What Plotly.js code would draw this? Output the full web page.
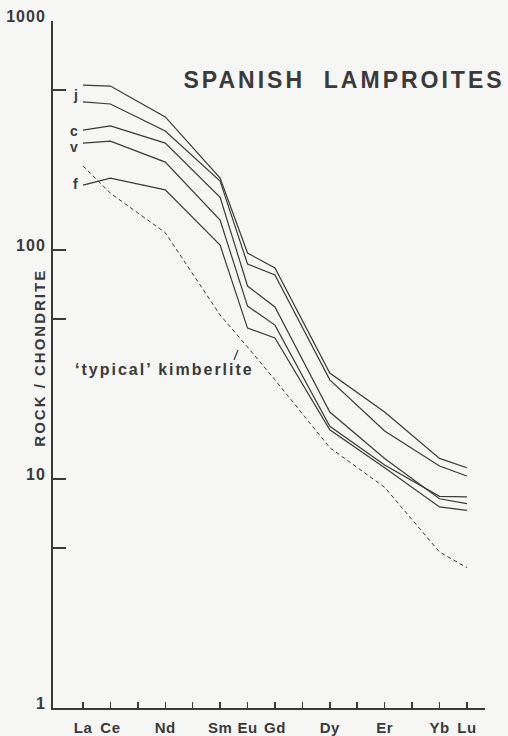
<!DOCTYPE html>
<html>
<head>
<meta charset="utf-8">
<script src="https://cdn.plot.ly/plotly-3.0.1.min.js"></script>
<style>
  html, body { margin: 0; padding: 0; background: #f6f6f5; }
  #chart { width: 508px; height: 736px; }
  .ytick text { letter-spacing: 1px; }
  .xtick text { letter-spacing: 0.5px; }
</style>
</head>
<body>
<div id="chart"></div>
<script>
// Rare-earth elements along the x axis (ticks at every element)
const elements = ['La','Ce','Pr','Nd','Pm','Sm','Eu','Gd','Tb','Dy','Ho','Er','Tm','Yb','Lu'];
const shownLabels = ['La','Ce','Nd','Sm','Eu','Gd','Dy','Er','Yb','Lu'];
// Elements actually analysed (points of every pattern)
const sampled = ['La','Ce','Nd','Sm','Eu','Gd','Dy','Er','Yb','Lu'];

// Chondrite-normalised REE patterns (rock / chondrite)
const lampJ1 = [525, 520, 381, 206, 97, 83.4, 29.0, 19.6, 12.3, 11.2];
const lampJ2 = [443, 434, 331, 200, 86.9, 77.8, 27.1, 16.2, 11.4, 10.3];
const lampC  = [334, 348, 293, 170, 69.6, 56.4, 19.6, 12.3, 8.2, 7.8];
const lampV  = [293, 299, 242, 135, 56.9, 47.0, 17.0, 11.5, 8.4, 8.35];
const lampF  = [192, 206, 183, 105, 45.6, 41.3, 16.4, 11.2, 7.55, 7.3];
const kimberlite = [233, 177, 119, 52.0, 37.7, 27.1, 13.7, 9.2, 4.8, 4.1];

const yTickVals = [1, 5, 10, 50, 100, 500, 1000];
const yTickText = ['1', '', '10', '', '100', '', '1000'];

const xIdx = sampled.map(e => elements.indexOf(e));
const xTickVals = elements.map((e, i) => i);
const xTickText = elements.map(e => shownLabels.includes(e) ? e : '');

const ink = '#3a3a3a';
const font = 'Liberation Sans, Arial, Helvetica, sans-serif';

function solid(name, ys) {
  return { x: xIdx, y: ys, name: name, type: 'scatter', mode: 'lines',
           line: { color: ink, width: 1.2 }, hoverinfo: 'skip' };
}

const traces = [
  solid('j', lampJ1),
  solid('j2', lampJ2),
  solid('c', lampC),
  solid('v', lampV),
  solid('f', lampF),
  { x: xIdx, y: kimberlite, name: 'typical kimberlite', type: 'scatter', mode: 'lines',
    line: { color: ink, width: 1, dash: '4px,3px' }, hoverinfo: 'skip' }
];

const lbl = (text, x, y) => ({ text: text, x: x, y: Math.log10(y), xref: 'x', yref: 'y',
  showarrow: false, xanchor: 'center', yanchor: 'middle', borderpad: 0,
  font: { family: font, size: 14, color: ink, weight: 'bold' } });

const layout = {
  width: 508, height: 736,
  margin: { l: 53, r: 23, t: 21, b: 28, pad: 0 },
  paper_bgcolor: '#f6f6f5', plot_bgcolor: '#f6f6f5',
  showlegend: false,
  xaxis: {
    range: [-1.094, 14.66], tickmode: 'array', tickvals: xTickVals, ticktext: xTickText,
    ticks: 'inside', ticklen: 6, tickwidth: 1.5, tickcolor: ink,
    showline: true, linewidth: 2, linecolor: ink, showgrid: false, zeroline: false,
    ticklabelstandoff: 5,
    tickfont: { family: font, size: 15, color: ink, weight: 'bold' }
  },
  yaxis: {
    type: 'log', range: [0, 3], tickmode: 'array', tickvals: yTickVals, ticktext: yTickText,
    ticks: 'inside', ticklen: 13, tickwidth: 1.5, tickcolor: ink,
    showline: true, linewidth: 2, linecolor: ink, showgrid: false, zeroline: false,
    ticklabelshift: -5, ticklabelstandoff: 2,
    tickfont: { family: font, size: 16, color: ink, weight: 'bold' }
  },
  annotations: [
    { text: 'SPANISH&nbsp;&nbsp;LAMPROITES', xref: 'paper', yref: 'paper', x: 0.6736, y: 0.914,
      xanchor: 'center', yanchor: 'middle', showarrow: false,
      font: { family: font, size: 23, color: ink, weight: 'bold' } },
    { text: 'ROCK / CHONDRITE', xref: 'paper', yref: 'paper', x: -0.030, y: 0.510,
      xanchor: 'center', yanchor: 'middle', textangle: -90, showarrow: false,
      font: { family: font, size: 15, color: ink, weight: 'bold' } },
    { text: '\u2018typical\u2019 kimberlite', xref: 'paper', yref: 'paper', x: 0.259, y: 0.4934,
      xanchor: 'center', yanchor: 'middle', showarrow: false,
      font: { family: font, size: 16, color: ink, weight: 'bold' } },
    lbl('j', -0.26, 475),
    lbl('c', -0.33, 331),
    lbl('v', -0.33, 282),
    lbl('f', -0.29, 194)
  ],
  shapes: [
    { type: 'line', xref: 'paper', yref: 'paper', x0: 0.4190, y0: 0.5066, x1: 0.4282, y1: 0.5211,
      line: { color: ink, width: 1.2 } }
  ]
};

Plotly.newPlot('chart', traces, layout, { displayModeBar: false, staticPlot: true }).then(() => {
  const ann = document.querySelectorAll('.annotation-text');
  if (ann[0]) ann[0].style.letterSpacing = '3px';
  if (ann[1]) ann[1].style.letterSpacing = '2px';
  if (ann[2]) ann[2].style.letterSpacing = '2px';
});
</script>
</body>
</html>
